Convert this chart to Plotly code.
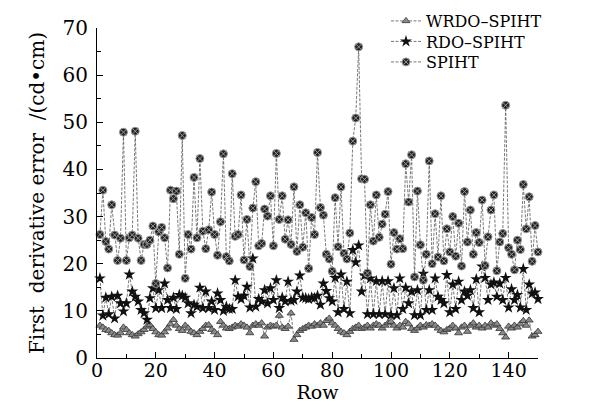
import plotly.graph_objects as go

rows = list(range(1, 151))

wrdo_spiht = [
    6.9, 6.5, 6.0, 5.8, 5.3, 4.9, 4.8, 5.3, 6.5, 6.0, 5.3, 4.9, 4.6, 5.1, 5.5, 6.0, 6.7, 7.0, 6.2, 5.5,
    4.9, 4.8, 5.5, 6.3, 7.2, 8.1, 6.9, 6.2, 5.8, 6.9, 6.3, 5.6, 5.3, 4.9, 5.6, 6.2, 6.9, 7.0,
    6.0, 5.5, 4.9, 7.7, 6.9, 6.3, 6.2, 6.5, 6.9, 6.7, 7.2, 6.9, 6.5, 5.3, 6.9, 7.2, 6.9, 7.4, 4.6, 6.5,
    6.9, 6.7, 6.9, 9.0, 6.5, 6.2, 6.7, 9.5, 3.9, 4.9, 5.8, 6.2, 6.5, 6.9, 6.7, 7.2, 6.9, 7.4, 6.9, 7.9, 8.4,
    7.4, 6.9, 6.2, 5.6, 5.3, 4.9, 5.6, 6.2, 6.5, 6.9, 6.2, 6.5, 6.9, 6.3, 6.9, 7.2, 6.9, 6.3, 6.9, 7.4,
    7.7, 6.9, 6.3, 6.9, 6.5, 7.7, 7.2, 6.2, 5.8, 6.3, 6.9, 6.5, 7.0, 6.9, 7.2, 6.9, 6.3, 5.8, 5.5, 6.0, 6.3,
    6.9, 6.3, 5.3, 6.5, 6.9, 5.6, 6.9, 7.4, 6.5, 6.9, 6.3, 6.9, 6.5, 7.4, 6.9, 7.2, 6.2, 5.3, 4.4, 6.7,
    6.3, 6.9, 6.5, 7.2, 7.9, 6.9, 8.0, 4.6, 4.9, 5.6,
]

rdo_spiht = [
    16.9, 9.0, 12.8, 9.3, 13.0, 8.4, 13.2, 11.6, 9.9, 11.6, 17.7, 14.1, 13.0, 12.0, 10.2, 9.5, 8.1, 12.7,
    14.8, 10.6, 14.4, 10.6, 15.8, 12.3, 10.6, 12.8, 10.4, 13.4, 13.2, 12.8, 11.6, 9.5, 11.3, 10.9, 14.9,
    10.6, 14.1, 10.6,
    12.0, 10.2, 13.7, 12.3, 10.0, 10.9, 10.4, 10.4, 16.5, 13.0, 12.5, 13.2, 15.1, 10.7, 21.1, 10.9, 12.5,
    12.0, 14.4, 11.6, 14.8, 12.3, 16.5, 10.6, 12.8, 12.0, 16.2, 12.1, 12.3, 14.1, 17.5, 12.8, 12.7, 12.5,
    12.8, 12.7, 13.2, 11.3, 15.8, 14.2,
    12.7, 12.0, 17.0, 9.7, 17.7, 10.4, 16.2, 9.5, 22.9, 20.3, 23.9, 14.1, 17.5, 9.3, 16.9, 9.3, 16.3, 9.3,
    16.3, 9.3, 16.3, 9.1, 14.8, 9.1, 16.9, 10.4, 14.9, 11.6, 14.1, 9.1, 14.4, 9.1, 17.9, 10.2, 14.4, 10.2,
    16.9, 13.0, 12.3, 11.6,
    17.6, 9.7, 15.6, 10.4, 16.2, 12.3, 14.1, 13.2, 14.4, 10.6, 16.7, 9.7, 19.4, 17.0, 12.3, 15.6, 16.0,
    13.0, 15.8, 12.3, 17.0, 10.7, 14.6, 12.3, 13.4, 10.7, 18.9, 10.2, 15.6, 13.7, 13.9, 12.5,
]

spiht = [
    26.2, 35.6, 24.7, 23.1, 32.5, 26.1, 20.7, 25.4, 47.9, 20.7, 25.5, 26.1, 48.1, 25.4, 20.7, 24.1, 24.1,
    25.0, 28.0, 15.8, 26.8, 27.7, 25.5, 19.1, 35.6, 33.8, 35.4, 22.0, 47.2, 16.9, 26.2, 23.1, 38.3, 25.5,
    42.3, 26.9, 23.2, 27.2, 35.2, 26.2, 21.8, 28.9, 43.3, 21.5, 20.6, 39.1, 25.8, 26.2, 34.6, 20.8, 29.4,
    19.4, 31.8, 37.4, 23.8, 24.3, 31.6, 30.1, 34.4, 23.8, 43.4, 29.4, 34.4, 25.2, 29.3, 24.1, 36.3, 22.6,
    32.5, 23.5, 30.8, 19.0, 29.8, 26.2, 43.6, 31.9, 30.3, 22.0, 21.0, 18.4, 34.0, 23.6, 36.3, 22.2, 21.0,
    26.5, 46.0, 50.9, 66.0, 38.0, 37.9, 18.0, 32.5, 24.8, 34.6, 25.6, 28.4, 30.5, 35.3, 19.9, 26.6, 23.1,
    25.3, 23.2, 41.2, 33.1, 43.1, 17.2, 35.4, 24.0, 16.5, 22.0, 41.8, 20.0, 30.6, 21.4, 34.4, 20.6, 27.4,
    22.5, 30.0, 21.6, 28.6, 19.5, 35.3, 24.6, 31.4, 22.0, 26.6, 24.5, 33.5, 19.6, 25.7, 31.4, 34.6, 18.5,
    24.6, 26.4, 53.6, 23.4, 22.0, 18.7, 25.0, 23.0, 36.8, 27.4, 34.2, 20.5, 28.1, 22.5,
]

font = "DejaVu Serif"
line_style = dict(color="#555555", width=0.8, dash="3px,1.5px")

fig = go.Figure()
fig.add_trace(go.Scatter(
    x=rows, y=wrdo_spiht, name="WRDO\u2013SPIHT", mode="lines+markers",
    line=line_style, cliponaxis=False, legend="legend",
    marker=dict(symbol="triangle-up", size=7, color="#8a8a8a", line=dict(color="#333333", width=0.8)),
))
fig.add_trace(go.Scatter(
    x=rows, y=rdo_spiht, name="RDO\u2013SPIHT", mode="lines+markers",
    line=line_style, cliponaxis=False, legend="legend2",
    marker=dict(symbol="star", size=9, color="#111111", line=dict(width=0)),
))
fig.add_trace(go.Scatter(
    x=rows, y=spiht, name="SPIHT", mode="lines+markers",
    line=line_style, cliponaxis=False, legend="legend3",
    marker=dict(symbol="circle-x", size=8, color="#222222", line=dict(color="#9a9a9a", width=1)),
))

# one legend per row so the rows sit as tightly as in the original
leg = dict(xref="container", yref="container", x=378 / 589, xanchor="left", yanchor="middle",
           font=dict(family=font, size=16), bgcolor="rgba(0,0,0,0)")
fig.update_layout(
    width=589, height=408,
    margin=dict(l=89, r=59, t=20, b=58, autoexpand=False),
    paper_bgcolor="white", plot_bgcolor="white",
    font=dict(family=font, size=20, color="black"),
    showlegend=True,
    legend=dict(leg, y=1 - 13 / 408),
    legend2=dict(leg, y=1 - 33.5 / 408),
    legend3=dict(leg, y=1 - 54 / 408),
)
fig.update_xaxes(
    range=[0, 150], dtick=20, tick0=0,
    showline=True, linecolor="black", linewidth=1, mirror=False,
    ticks="inside", ticklen=6, tickcolor="black",
    minor=dict(ticks="inside", dtick=10, ticklen=4, tickcolor="black"),
    showgrid=False, zeroline=False,
    title=dict(text="Row", standoff=0, font=dict(size=19)),
    tickfont=dict(size=19), ticklabelstandoff=-5,
)
fig.update_yaxes(
    range=[0, 70], dtick=10, tick0=0,
    showline=True, linecolor="black", linewidth=1, mirror=False,
    ticks="inside", ticklen=6, tickcolor="black",
    minor=dict(ticks="inside", dtick=5, ticklen=4, tickcolor="black"),
    showgrid=False, zeroline=False,
    title=dict(text="First\u00a0 derivative error\u00a0 /(cd\u2022cm)", standoff=12, font=dict(size=20)),
    tickfont=dict(size=20), ticklabelstandoff=4,
)

fig.write_html("out.html")
